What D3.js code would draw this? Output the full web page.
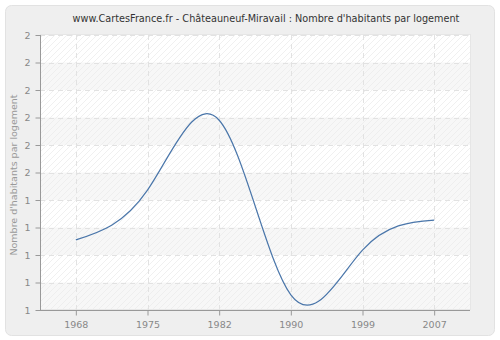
<!DOCTYPE html>
<html><head><meta charset="utf-8">
<script src="https://cdn.jsdelivr.net/npm/d3@7"></script>
<style>body{margin:0;background:#fff;}svg{display:block;font-family:"DejaVu Sans",sans-serif;}</style>
</head><body><svg id="c" width="500" height="340"></svg>
<script>
const years = ["1968","1975","1982","1990","1999","2007"];
const values = [1.255, 1.436, 1.69, 1.055, 1.218, 1.327];
const yTicks = [1.0,1.1,1.2,1.3,1.4,1.5,1.6,1.7,1.8,1.9,2.0];
const title = "www.CartesFrance.fr - Châteauneuf-Miravail : Nombre d'habitants par logement";
const yTitle = "Nombre d'habitants par logement";

const svg = d3.select("#c");
const m = {l:40, r:470, t:35, b:310};
const defs = svg.append("defs");
const pat = defs.append("pattern").attr("id","hatch").attr("patternUnits","userSpaceOnUse")
  .attr("width",6).attr("height",6);
pat.append("path").attr("d","M-1,1 l2,-2 M0,6 l6,-6 M5,7 l2,-2").attr("stroke","#ececec").attr("stroke-width",0.8);

svg.append("rect").attr("x",5.5).attr("y",5.5).attr("width",489).attr("height",330).attr("rx",6)
  .attr("fill","#efefef").attr("stroke","#e2e2e2");

const x = d3.scalePoint().domain(years).range([m.l,m.r]).padding(0.5);
const y = d3.scaleLinear().domain([1,2]).range([m.b,m.t]);

svg.append("rect").attr("x",m.l).attr("y",m.t).attr("width",m.r-m.l).attr("height",m.b-m.t).attr("fill","#fff");
for (let i=0;i<yTicks.length-1;i++){
  if (i%2===0) svg.append("rect").attr("x",m.l).attr("y",y(yTicks[i+1])).attr("width",m.r-m.l)
    .attr("height",y(yTicks[i])-y(yTicks[i+1])).attr("fill","#f7f7f7");
}
svg.append("rect").attr("x",m.l).attr("y",m.t).attr("width",m.r-m.l).attr("height",m.b-m.t).attr("fill","url(#hatch)");
svg.append("rect").attr("x",m.l+0.5).attr("y",m.t-0.5).attr("width",m.r-m.l).attr("height",m.b-m.t).attr("fill","none").attr("stroke","#e6e6e6");

svg.append("g").selectAll("line").data(yTicks.slice(1)).join("line")
  .attr("x1",m.l).attr("x2",m.r).attr("y1",d=>Math.round(y(d))+0.5).attr("y2",d=>Math.round(y(d))+0.5)
  .attr("stroke","#e2e2e2").attr("stroke-dasharray","5,4");
svg.append("g").selectAll("line").data(years).join("line")
  .attr("y1",m.t).attr("y2",m.b).attr("x1",d=>Math.round(x(d))+0.5).attr("x2",d=>Math.round(x(d))+0.5)
  .attr("stroke","#e2e2e2").attr("stroke-dasharray","5,4");

const ya = svg.append("g").attr("transform",`translate(${m.l+0.5},0)`)
  .call(d3.axisLeft(y).tickValues(yTicks).tickFormat(d3.format(".0f")).tickSize(5).tickPadding(5));
const xa = svg.append("g").attr("transform",`translate(0,${m.b+0.5})`)
  .call(d3.axisBottom(x).tickSize(5).tickPadding(6));
[ya,xa].forEach(a=>{
  a.selectAll("path,line").attr("stroke","#999");
  a.selectAll("text").attr("fill","#888").style("font-size","9.5px").style("font-family","DejaVu Sans");
});
ya.select(".domain").attr("d",`M0,${m.t}V${m.b}`);
xa.select(".domain").attr("d",`M${m.l},0H${m.r}`);

svg.append("path").datum(values)
  .attr("d", d3.line().x((d,i)=>x(years[i])).y(d=>y(d)).curve(d3.curveNatural))
  .attr("fill","none").attr("stroke","#4a76aa").attr("stroke-width",1.2);

svg.append("text").attr("x",266).attr("y",22).attr("text-anchor","middle")
  .attr("fill","#333").style("font-size","9.7px").text(title);
svg.append("text").attr("transform","translate(17,175) rotate(-90)").attr("text-anchor","middle")
  .attr("fill","#999").style("font-size","9.5px").text(yTitle);
</script></body></html>
